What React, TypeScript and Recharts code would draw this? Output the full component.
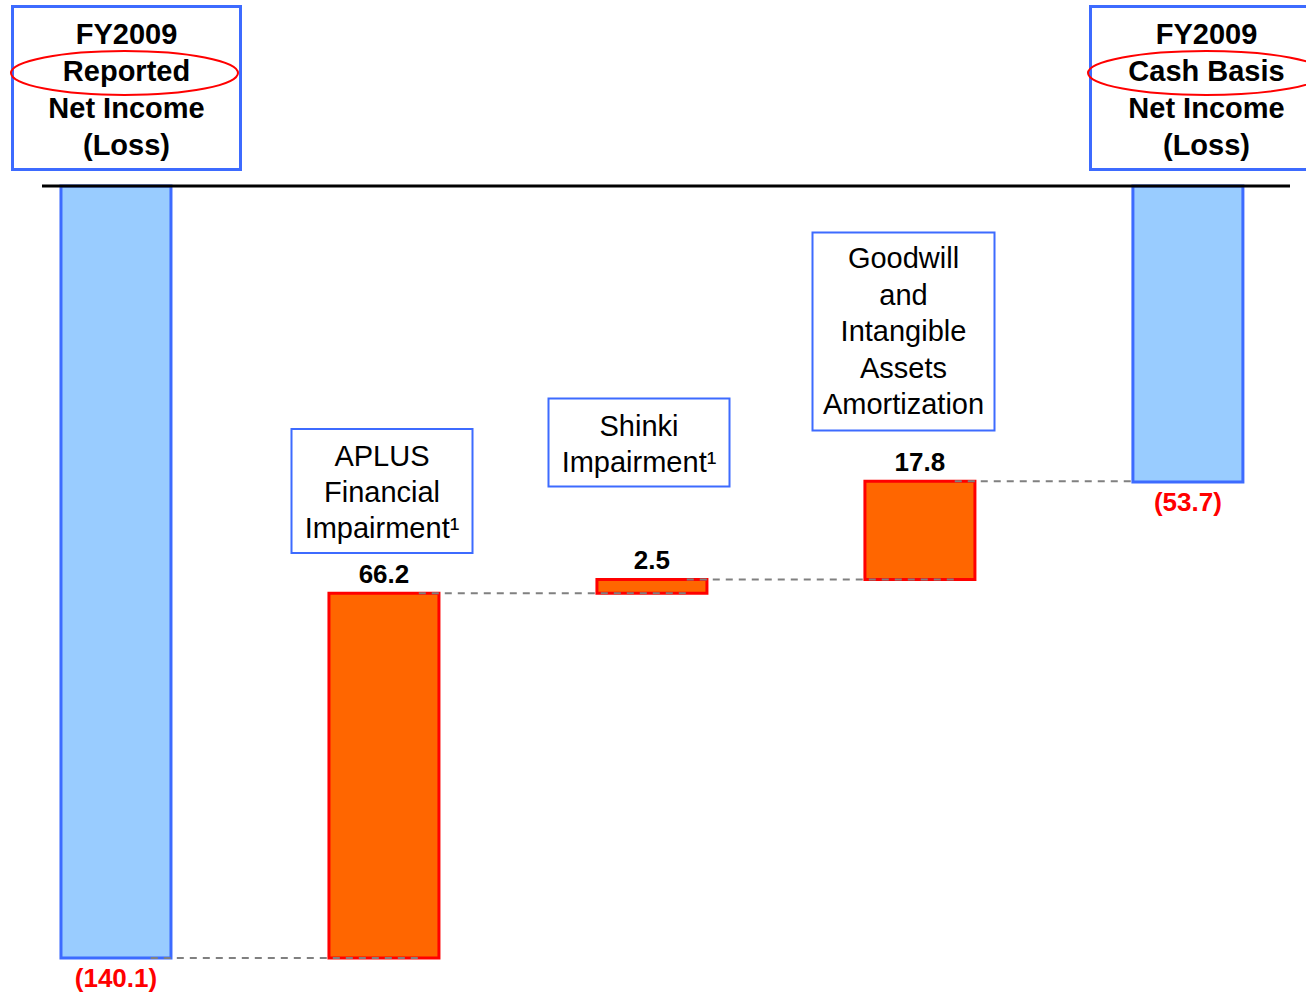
import React from 'react';
import { BarChart, Bar, XAxis, YAxis, Cell, LabelList, ReferenceLine, Customized } from 'recharts';

// Waterfall steps, left to right
const steps = [
  'FY2009 Reported Net Income (Loss)',
  'APLUS Financial Impairment',
  'Shinki Impairment',
  'Goodwill and Intangible Assets Amortization',
  'FY2009 Cash Basis Net Income (Loss)',
];
const amounts = [-140.1, 66.2, 2.5, 17.8, -53.7];
const isTotal = [true, false, false, false, true];
const valueLabels = ['(140.1)', '66.2', '2.5', '17.8', '(53.7)'];

const headerLeft = ['FY2009', 'Reported', 'Net Income', '(Loss)'];
const headerRight = ['FY2009', 'Cash Basis', 'Net Income', '(Loss)'];
const noteAplus = ['APLUS', 'Financial', 'Impairment¹'];
const noteShinki = ['Shinki', 'Impairment¹'];
const noteGoodwill = ['Goodwill', 'and', 'Intangible', 'Assets', 'Amortization'];

const FONT = '"Liberation Sans", Arial, Helvetica, sans-serif';
const BLUE = '#3d6bff';

// build floating spans from running total
let running = 0;
const rows = steps.map((name, i) => {
  let span: [number, number];
  if (isTotal[i]) {
    span = [Math.min(0, amounts[i]), Math.max(0, amounts[i])];
    running = amounts[i];
  } else {
    const start = running;
    running += amounts[i];
    span = [Math.min(start, running), Math.max(start, running)];
  }
  return { idx: i, name, span, label: valueLabels[i], total: isTotal[i], level: running };
});
const minLevel = Math.min(...rows.map((r) => r.span[0]));

const ValueLabel = (props: any) => {
  const x = props.x ?? props.viewBox?.x;
  const y = props.y ?? props.viewBox?.y;
  const width = props.width ?? props.viewBox?.width;
  const height = props.height ?? props.viewBox?.height;
  const i = valueLabels.indexOf(props.value);
  const total = isTotal[i];
  return (
    <text
      x={x + width / 2}
      y={total ? y + height + 29 : y - 10}
      textAnchor="middle"
      fontFamily={FONT}
      fontSize={26}
      fontWeight="bold"
      fill={total ? '#ff0000' : '#000000'}
    >
      {props.value}
    </text>
  );
};

const TextBox = ({ x, y, w, h, lines, base, step, bold, sw }: any) => (
  <g>
    <rect x={x} y={y} width={w} height={h} fill="#ffffff" stroke={BLUE} strokeWidth={sw} />
    {lines.map((t: string, k: number) => (
      <text
        key={k}
        x={x + w / 2}
        y={base + k * step}
        textAnchor="middle"
        fontFamily={FONT}
        fontSize={29}
        fontWeight={bold ? 'bold' : 'normal'}
        fill="#000000"
      >
        {t}
      </text>
    ))}
  </g>
);

const Decorations = () => (
  <g>
    <TextBox x={12.5} y={6.5} w={228} h={163} lines={headerLeft} base={44} step={37} bold sw={3} />
    <ellipse cx={124.5} cy={73} rx={113.5} ry={22} fill="none" stroke="#ff0000" strokeWidth={2} />
    <TextBox x={1090.5} y={6.5} w={232} h={163} lines={headerRight} base={44} step={37} bold sw={3} />
    <ellipse cx={1206} cy={73} rx={118} ry={22} fill="none" stroke="#ff0000" strokeWidth={2} />
    <TextBox x={291.5} y={429} w={181} h={124} lines={noteAplus} base={466} step={36} sw={2} />
    <TextBox x={548.5} y={398.5} w={181} h={88} lines={noteShinki} base={436} step={36} sw={2} />
    <TextBox x={812.5} y={232.5} w={182} h={198} lines={noteGoodwill} base={268} step={36.5} sw={2} />
  </g>
);

export default function App() {
  return (
    <div style={{ position: 'absolute', left: 0, top: 0, width: 1306, height: 995, background: '#ffffff' }}>
      <BarChart
        width={1306}
        height={995}
        data={rows}
        margin={{ top: 186, right: 16, bottom: 37, left: 42 }}
      >
        <XAxis type="number" dataKey="idx" domain={[-0.276, 4.381]} hide />
        <YAxis type="number" domain={[minLevel, 0]} hide />
        <Bar dataKey="span" barSize={110} isAnimationActive={false}>
          {rows.map((r, i) => (
            <Cell
              key={`c-${i}`}
              fill={r.total ? '#99ccff' : '#ff6600'}
              stroke={r.total ? BLUE : '#ff0000'}
              strokeWidth={3}
            />
          ))}
          <LabelList dataKey="label" content={ValueLabel} />
        </Bar>
        {rows.slice(0, -1).map((r, i) => (
          <ReferenceLine
            key={`link-${i}`}
            segment={[
              { x: i + 0.13, y: r.level },
              { x: i + 1 + (rows[i + 1].total ? -0.2 : 0.13), y: r.level },
            ]}
            stroke="#808080"
            strokeWidth={2}
            strokeDasharray="7 6"
          />
        ))}
        <ReferenceLine y={0} stroke="#000000" strokeWidth={3} />
        <Customized component={Decorations} />
      </BarChart>
    </div>
  );
}
